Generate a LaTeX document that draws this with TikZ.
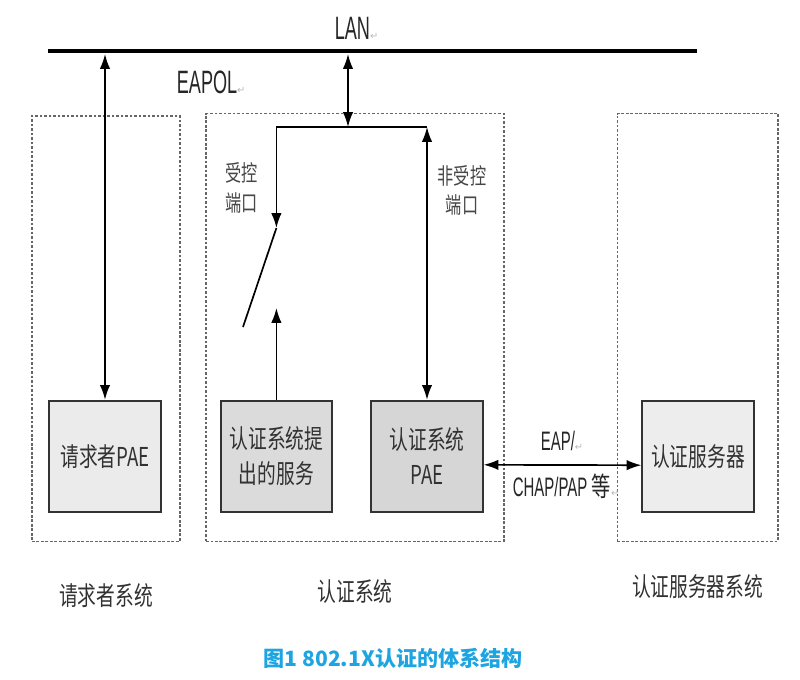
\documentclass[tikz,border=0pt]{standalone}
\usepackage{fontspec}
\setmainfont{Noto Sans CJK SC}
\newfontfamily\cjkn[FakeStretch=0.72]{Noto Sans CJK SC}
\newfontfamily\latn[FakeStretch=0.56]{Liberation Sans}
\newfontfamily\symf{DejaVu Sans}
\usepackage{tikz}
\usetikzlibrary{positioning,arrows.meta}
\definecolor{capblue}{RGB}{30,165,225}
\definecolor{txtgrey}{RGB}{50,50,50}
\newcommand{\ret}{{\symf\fontsize{7}{7}\selectfont\color{gray!55}↵}}

\begin{document}
\begin{tikzpicture}[
    line width=1.2pt,
    font=\cjkn\fontsize{18.5}{25}\selectfont,
    box/.style={rectangle, draw=black!80, line width=1.4pt, minimum width=2.78cm, minimum height=2.78cm, inner sep=0pt, align=center, text=txtgrey},
    sys/.style={rectangle, draw=black!60, line width=1pt, dash pattern=on 2pt off 1.2pt, inner sep=0pt},
    port/.style={font=\cjkn\fontsize{16}{21}\selectfont, text=black!72, align=center},
    tag/.style={font=\latn\fontsize{23}{23}\selectfont, text=black!85, inner sep=0pt, anchor=west},
    eap/.style={font=\latn\fontsize{19}{19}\selectfont, text=black!85, inner sep=0pt, anchor=west},
    link/.style={{Latex[length=0.37cm,width=0.26cm]}-{Latex[length=0.37cm,width=0.26cm]}},
    tip/.style={-{Latex[length=0.37cm,width=0.26cm]}}
]
\useasboundingbox (0,0) rectangle (20,-17);

% --- LAN ---
\coordinate (lanL) at (1.2,-1.28);
\coordinate (lanR) at (17.43,-1.28);
\coordinate (lanB) at (0,-1.35);
\draw[line width=2.8pt] (lanL) -- (lanR);
\node[tag] (lan) at (8.35,-0.7) {LAN\ret};
\node[tag] (eapol) at (4.4,-2.05) {EAPOL\ret};

% --- Systems (dashed) ---
\node[sys, minimum width=3.7cm, minimum height=10.63cm] (supSys) at (2.65,-8.215) {};
\node[sys, minimum width=7.45cm, minimum height=10.69cm] (authSys) at (8.875,-8.185) {};
\node[sys, minimum width=4.02cm, minimum height=10.69cm] (srvSys) at (17.44,-8.185) {};

% --- Entities ---
\node[box, fill=black!8] (supPAE) at (2.625,-11.41) {请求者PAE};
\node[box, fill=black!14] (svc) at (6.91,-11.41) {认证系统提\\出的服务};
\node[box, fill=black!16] (authPAE) at (10.675,-11.41) {认证系统\\PAE};
\node[box, fill=black!7] (server) at (17.45,-11.42) {认证服务器};

% --- Ports ---
\coordinate (jn) at (8.7,-3.175);
\coordinate (swA) at (6.91,-5.7);
\coordinate (swB) at (6.075,-8.175);
\coordinate (swC) at (6.91,-7.7);
\draw[link] (supPAE.north) -- (supPAE.north |- lanB);
\draw[link] (jn) -- (jn |- lanB);
\draw (svc.north |- jn) -- (authPAE.north |- jn);
\draw[tip] (svc.north |- jn) -- (swA);
\draw (swA) -- (swB);
\draw[tip] (svc.north) -- (swC);
\draw[link] (authPAE.north) -- (authPAE.north |- jn);
\node[port] (ctl) at (6.03,-4.7) {受控\\端口};
\node[port] (unctl) at (11.55,-4.76) {非受控\\端口};

% --- EAP ---
\draw[link] ([yshift=-0.21cm]authPAE.east) -- ([yshift=-0.21cm]server.west);
\node[eap] (eapA) at (13.5,-11.03) {EAP/\ret};
\node[eap] (eapB) at (12.8,-12.15) {CHAP/PAP\,{\cjkn 等}\ret};

% Captions
\node[below=0.9cm of supSys, text=txtgrey] (supLbl) {请求者系统};
\node[below=0.8cm of authSys, text=txtgrey] (authLbl) {认证系统};
\node[below=0.68cm of srvSys, text=txtgrey] (srvLbl) {认证服务器系统};
\node[font=\bfseries\fontsize{15}{15}\selectfont, text=capblue] (cap) at (9.83,-16.45) {图1 802.1X认证的体系结构};
\end{tikzpicture}
\end{document}
